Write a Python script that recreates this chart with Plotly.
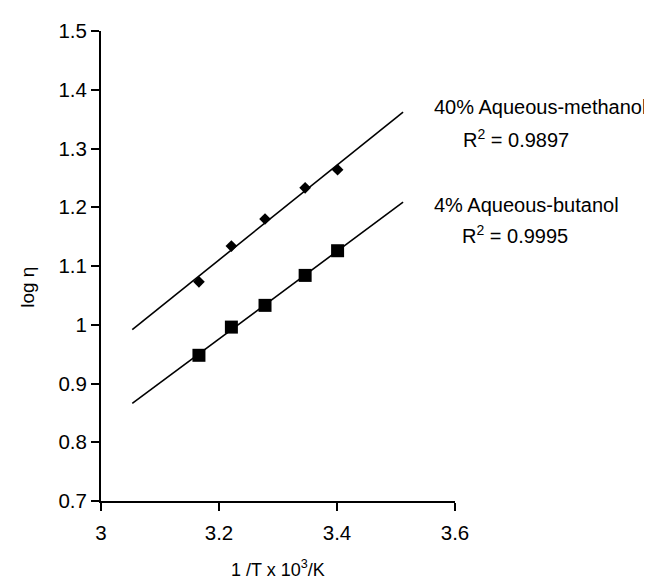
import numpy as np
import plotly.graph_objects as go

# Data
inv_T = [3.166, 3.221, 3.278, 3.346, 3.401]
log_eta_methanol = [1.073, 1.134, 1.180, 1.233, 1.264]
log_eta_butanol = [0.948, 0.996, 1.033, 1.084, 1.126]
fit_range = [3.053, 3.512]  # trendline extent

x_ticks = [3, 3.2, 3.4, 3.6]
x_ticktext = ["3", "3.2", "3.4", "3.6"]
y_ticks = [0.7, 0.8, 0.9, 1.0, 1.1, 1.2, 1.3, 1.4, 1.5]
y_ticktext = ["0.7", "0.8", "0.9", "1", "1.1", "1.2", "1.3", "1.4", "1.5"]

labels = ["40% Aqueous-methanol", "4% Aqueous-butanol"]
r2_text = ["R<sup>2</sup> = 0.9897", "R<sup>2</sup> = 0.9995"]

FONT = "Liberation Sans, Arial, Helvetica, sans-serif"
FS = 20

fig = go.Figure()

xf = np.array(fit_range)
for ys in (log_eta_methanol, log_eta_butanol):
    m, b = np.polyfit(inv_T, ys, 1)
    fig.add_trace(go.Scatter(x=xf, y=m * xf + b, mode="lines",
                             line=dict(color="black", width=1.6),
                             showlegend=False, hoverinfo="skip"))

fig.add_trace(go.Scatter(x=inv_T, y=log_eta_methanol, mode="markers",
                         marker=dict(symbol="diamond", size=9, color="black"),
                         showlegend=False))
fig.add_trace(go.Scatter(x=inv_T, y=log_eta_butanol, mode="markers",
                         marker=dict(symbol="square", size=13, color="black"),
                         showlegend=False))

ann = [
    dict(x=0.936, y=0.838, text=labels[0]),
    dict(x=1.016, y=0.772, text=r2_text[0]),
    dict(x=0.936, y=0.630, text=labels[1]),
    dict(x=1.013, y=0.566, text=r2_text[1]),
]
for a in ann:
    fig.add_annotation(xref="paper", yref="paper", xanchor="left", yanchor="middle",
                       showarrow=False, font=dict(size=FS, color="black", family=FONT), **a)

fig.add_annotation(xref="paper", yref="paper", x=-0.21, y=0.455, text="log η",
                   textangle=-90, showarrow=False, xanchor="center", yanchor="middle",
                   font=dict(size=19, color="black", family=FONT))
fig.add_annotation(xref="paper", yref="paper", x=0.5, y=-0.143,
                   text="1 /T x 10<sup>3</sup>/K", showarrow=False,
                   xanchor="center", yanchor="middle",
                   font=dict(size=18, color="black", family=FONT))

axis_common = dict(showgrid=False, zeroline=False, showline=True, linecolor="black",
                   linewidth=2, ticks="outside", ticklen=8, tickwidth=2, tickcolor="black",
                   tickfont=dict(size=20.5, color="black", family=FONT))

fig.update_xaxes(range=[3, 3.6], tickvals=x_ticks, ticktext=x_ticktext,
                 ticklabelstandoff=4, **axis_common)
fig.update_yaxes(range=[0.7, 1.5], tickvals=y_ticks, ticktext=y_ticktext, **axis_common)

fig.update_layout(width=652, height=580, plot_bgcolor="white", paper_bgcolor="white",
                  margin=dict(l=93, r=205, t=23, b=87), showlegend=False,
                  font=dict(family=FONT, color="black"))

fig.write_html("out.html")
